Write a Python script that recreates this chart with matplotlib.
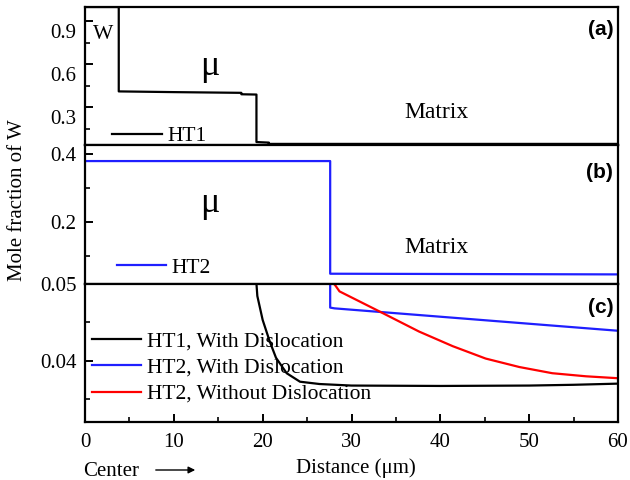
import matplotlib
matplotlib.use('Agg')
import matplotlib.pyplot as plt
from matplotlib.transforms import ScaledTranslation

plt.rcParams['font.family'] = ['Liberation Serif', 'DejaVu Serif']
plt.rcParams['font.size'] = 15
plt.rcParams['mathtext.fontset'] = 'stix'

# (a) HT1 profile
ht1_x = [0, 3.8, 3.8, 10, 17.6, 17.6, 19.3, 19.3, 20.7, 20.7, 60]
ht1_y = [1.0, 1.0, 0.41, 0.405, 0.40, 0.39, 0.388, 0.056, 0.052, 0.043, 0.043]

# (b) HT2 profile
ht2_x = [0, 27.6, 27.6, 60]
ht2_y = [0.38, 0.38, 0.047, 0.045]

# (c) zoom on the matrix side
c_ht1_x = [19.3, 19.4, 20.0, 20.8, 21.5, 22.7, 24.2, 26.4, 30, 40, 50, 55, 60]
c_ht1_y = [0.0500, 0.0484, 0.0453, 0.0425, 0.0404, 0.0384, 0.0373, 0.0370,
           0.03680, 0.03675, 0.03680, 0.03690, 0.03705]
c_ht2_x = [27.6, 27.6, 28.1, 60]
c_ht2_y = [0.0500, 0.0469, 0.0468, 0.0439]
c_ht2n_x = [27.9, 28.1, 28.65, 33.15, 37.6, 41.4, 45.1, 48.9, 52.6, 56.4, 60]
c_ht2n_y = [0.0500, 0.0499, 0.0490, 0.0464, 0.0438, 0.0419, 0.0403, 0.0392,
            0.0384, 0.0380, 0.03775]

fig = plt.figure(figsize=(6.3, 4.8), dpi=100)
L, R, B, T = 85 / 630, 618 / 630, 58 / 480, 473 / 480
h = (T - B) / 3
ax_a = fig.add_axes([L, B + 2 * h, R - L, h])
ax_b = fig.add_axes([L, B + h, R - L, h])
ax_c = fig.add_axes([L, B, R - L, h])

for ax in (ax_a, ax_b, ax_c):
    ax.set_xlim(0, 60)
    for s in ax.spines.values():
        s.set_linewidth(1.6)
    ax.tick_params(direction='in', width=1.4, length=6, which='major', right=False, top=False)
    ax.tick_params(direction='in', width=1.2, length=3.5, which='minor', right=False, top=False)
    ax.tick_params(axis='y', which='major', pad=6)
    ax.tick_params(axis='x', which='major', pad=8)

ax_a.plot(ht1_x, ht1_y, color='black', lw=1.6, label='HT1')
ax_a.set_ylim(0.033, 1.0)
ax_a.set_yticks([0.3, 0.6, 0.9])
ax_a.set_yticks([0.15, 0.45, 0.75], minor=True)
ax_a.tick_params(axis='x', which='both', bottom=False, labelbottom=False)
# tick labels in panel (a) sit a bit below their ticks in the original
for lab in ax_a.get_yticklabels():
    lab.set_transform(lab.get_transform() + ScaledTranslation(0, -0.10, fig.dpi_scale_trans))

ax_b.plot(ht2_x, ht2_y, color='#1f1fff', lw=1.6, label='HT2')
ax_b.set_ylim(0.0176, 0.4265)
ax_b.set_yticks([0.2, 0.4])
ax_b.set_yticks([0.1, 0.3], minor=True)
ax_b.tick_params(axis='x', which='both', bottom=False, labelbottom=False)

ax_c.plot(c_ht1_x, c_ht1_y, color='black', lw=1.6, label='HT1, With Dislocation')
ax_c.plot(c_ht2_x, c_ht2_y, color='#1f1fff', lw=1.6, label='HT2, With Dislocation')
ax_c.plot(c_ht2n_x, c_ht2n_y, color='red', lw=1.6, label='HT2, Without Dislocation')
ax_c.set_ylim(0.03208, 0.05)
ax_c.set_yticks([0.04, 0.05])
ax_c.set_yticklabels(['0.04', '0.05'])
ax_c.set_yticks([0.035, 0.045], minor=True)
ax_c.set_xticks([0, 10, 20, 30, 40, 50, 60])
ax_c.set_xticks([5, 15, 25, 35, 45, 55], minor=True)

leg_kw = dict(frameon=False, handlelength=2.3, handletextpad=0.25, borderpad=0,
              borderaxespad=0, labelspacing=0.28, loc='center left', fontsize=15.5)
ax_a.legend(bbox_to_anchor=(0.051, 0.065), **leg_kw)
ax_b.legend(bbox_to_anchor=(0.060, 0.115), **leg_kw)
ax_c.legend(bbox_to_anchor=(0.013, 0.391), **leg_kw)

ax_a.text(0.034, 0.80, 'W', transform=ax_a.transAxes, ha='center', va='center', fontsize=15.5)
ax_a.text(0.235, 0.57, 'μ', transform=ax_a.transAxes, ha='center', va='center', fontsize=26)
ax_b.text(0.235, 0.58, 'μ', transform=ax_b.transAxes, ha='center', va='center', fontsize=26)
ax_a.text(0.659, 0.239, 'Matrix', transform=ax_a.transAxes, ha='center', va='center', fontsize=17)
ax_b.text(0.659, 0.259, 'Matrix', transform=ax_b.transAxes, ha='center', va='center', fontsize=17)

for ax, lab, y in ((ax_a, '(a)', 0.84), (ax_b, '(b)', 0.806), (ax_c, '(c)', 0.826)):
    ax.text(0.991, y, lab, transform=ax.transAxes, ha='right', va='center',
            fontsize=15, fontweight='bold', family='Liberation Sans')

fig.text(18 / 630, 1 - 200 / 480, 'Mole fraction of W', rotation=90, ha='center', va='center')
fig.text(356 / 630, 1 - 468 / 480, 'Distance (μm)', ha='center', va='center')
fig.text(83 / 630, 1 - 471 / 480, 'Center', ha='left', va='center')
fig.add_artist(matplotlib.patches.FancyArrowPatch((153 / 630, 1 - 470 / 480), (198 / 630, 1 - 470 / 480),
                                                  transform=fig.transFigure, arrowstyle='-|>',
                                                  mutation_scale=10, color='black', lw=1))

fig.savefig('out.png', dpi=100)
